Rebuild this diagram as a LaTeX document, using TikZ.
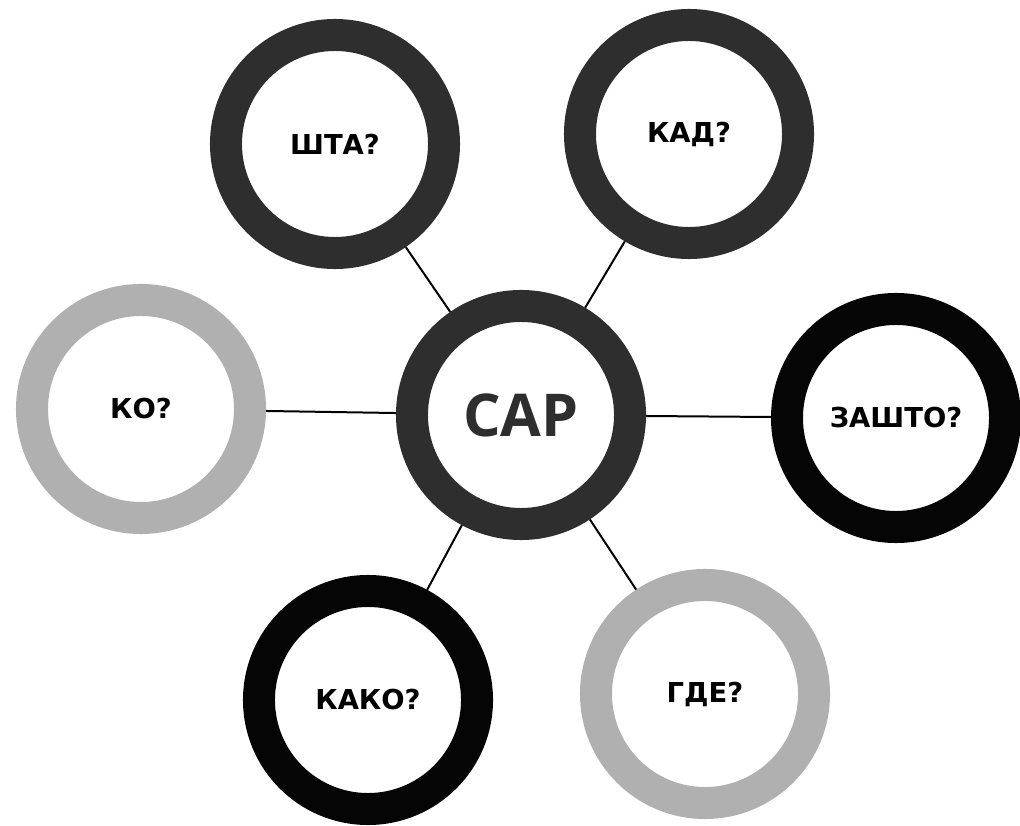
\documentclass[tikz,border=0pt]{standalone}
\usepackage{fontspec}
\setmainfont{DejaVu Sans}
\newfontfamily\sarfont{Open Sans}
\definecolor{ringdark}{HTML}{2E2E2E}
\definecolor{ringblack}{HTML}{050505}
\definecolor{ringlight}{HTML}{B0B0B0}
\begin{document}
\begin{tikzpicture}[x=0.025cm,y=-0.025cm,
    ring/.style={circle,draw=#1,line width=0.8cm,minimum size=5.45cm,inner sep=0pt,
        font=\fontsize{19.5}{22}\selectfont\bfseries},
    link/.style={line width=0.05cm,black}]
    \useasboundingbox (0,0) rectangle (1020,826);
    % center
    \node[ring=ringdark,font=\sarfont\fontsize{42}{46}\selectfont\bfseries,text=ringdark] (sar) at (521,415) {САР};
    % questions
    \node[ring=ringdark] (shta) at (335,144) {ШТА?};
    \node[ring=ringdark] (kad) at (689,134) {КАД?};
    \node[ring=ringlight] (ko) at (141,409) {КО?};
    \node[ring=ringblack] (zashto) at (896,418) {ЗАШТО?};
    \node[ring=ringblack] (kako) at (368,700) {КАКО?};
    \node[ring=ringlight] (gde) at (705,694) {ГДЕ?};
    \draw[link] (sar) -- (shta);
    \draw[link] (sar) -- (kad);
    \draw[link] (sar) -- (ko);
    \draw[link] (sar) -- (zashto);
    \draw[link] (sar) -- (kako);
    \draw[link] (sar) -- (gde);
\end{tikzpicture}
\end{document}
